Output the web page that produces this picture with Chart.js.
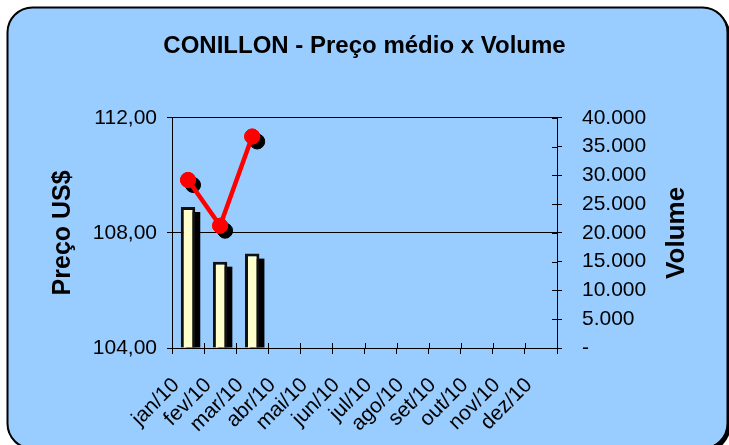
<!DOCTYPE html>
<html lang="pt">
<head>
    <meta charset="UTF-8">
    <title>CONILLON - Preço médio x Volume</title>
    <script src="https://cdn.jsdelivr.net/npm/chart.js@4"></script>
    <style>
        html, body { margin: 0; padding: 0; background: #fff; }
        #wrap { width: 729px; height: 445px; position: relative; }
    </style>
</head>
<body>
    <div id="wrap"><canvas id="grafico"></canvas></div>

    <script>
        // Dados
        const meses = ['jan/10', 'fev/10', 'mar/10', 'abr/10', 'mai/10', 'jun/10',
                       'jul/10', 'ago/10', 'set/10', 'out/10', 'nov/10', 'dez/10'];
        const precoMedio = [109.84, 108.25, 111.35];   // US$ (eixo esquerdo)
        const volume = [24500, 15000, 16400];          // eixo direito
        const precoEixo = [104, 108, 112];
        const volumeEixo = [0, 5000, 10000, 15000, 20000, 25000, 30000, 35000, 40000];

        const fonte = "'Liberation Sans', Arial, sans-serif";

        function milhar(v) {
            if (v === 0) return '-';
            return String(v).replace(/\B(?=(\d{3})+(?!\d))/g, '.');
        }

        // moldura azul arredondada atrás do gráfico
        const moldura = {
            id: 'moldura',
            beforeDraw(chart) {
                const ctx = chart.ctx;
                ctx.save();
                ctx.fillStyle = '#fff';
                ctx.fillRect(0, 0, chart.width, chart.height);
                ctx.fillStyle = '#000';
                ctx.beginPath();
                ctx.roundRect(10.5, 10.5, 720, 441, 25);
                ctx.fill();
                ctx.beginPath();
                ctx.roundRect(7.5, 7.5, 720, 441, 25);
                ctx.fillStyle = '#99ccff';
                ctx.fill();
                ctx.lineWidth = 2;
                ctx.strokeStyle = '#000';
                ctx.stroke();
                ctx.restore();
            }
        };

        // sombra preta: retângulos deslocados para as barras, shadow do canvas para os pontos
        const sombra = {
            id: 'sombra',
            beforeDatasetDraw(chart, args) {
                const ds = chart.data.datasets[args.index];
                if (!ds.sombra) return;
                const ctx = chart.ctx;
                ctx.save();
                if (ds.type === 'bar') {
                    const d = ds.sombra;
                    ctx.fillStyle = '#000';
                    args.meta.data.forEach(bar => {
                        const p = bar.getProps(['x', 'y', 'base', 'width'], true);
                        ctx.fillRect(p.x - p.width / 2 + d, p.y + d, p.width, p.base - p.y - d);
                    });
                } else {
                    ctx.shadowColor = '#000';
                    ctx.shadowBlur = 0;
                    ctx.shadowOffsetX = ds.sombra;
                    ctx.shadowOffsetY = ds.sombra;
                }
            },
            afterDatasetDraw(chart, args) {
                const ds = chart.data.datasets[args.index];
                if (!ds.sombra) return;
                chart.ctx.restore();
            }
        };

        // marcas de escala que cruzam os eixos (parte de dentro)
        const tracos = {
            id: 'tracos',
            afterDraw(chart) {
                const ctx = chart.ctx;
                const x = chart.scales.x, y1 = chart.scales.y1;
                const area = chart.chartArea;
                ctx.save();
                ctx.strokeStyle = '#000';
                ctx.lineWidth = 1;
                ctx.beginPath();
                for (let i = 0; i <= meses.length; i++) {
                    const px = Math.round(x.getPixelForValue(i - 0.5)) + 0.5;
                    ctx.moveTo(px, area.bottom);
                    ctx.lineTo(px, area.bottom - 5);
                }
                volumeEixo.forEach(v => {
                    const py = Math.round(y1.getPixelForValue(v)) + 0.5;
                    ctx.moveTo(area.right, py);
                    ctx.lineTo(area.right - 5, py);
                });
                ctx.stroke();
                ctx.restore();
            }
        };

        // título do eixo direito, lido de baixo para cima
        const tituloDireito = {
            id: 'tituloDireito',
            afterDraw(chart) {
                const s = chart.scales.y1;
                const ctx = chart.ctx;
                ctx.save();
                ctx.translate(677, (chart.chartArea.top + chart.chartArea.bottom) / 2);
                ctx.rotate(-Math.PI / 2);
                ctx.font = 'bold 26px ' + fonte;
                ctx.fillStyle = '#000';
                ctx.textAlign = 'center';
                ctx.textBaseline = 'middle';
                ctx.fillText(s.options.title.text, 0, 0);
                ctx.restore();
            }
        };

        const ctx = document.getElementById('grafico').getContext('2d');
        new Chart(ctx, {
            data: {
                labels: meses,
                datasets: [
                    {
                        type: 'line',
                        data: precoMedio,
                        yAxisID: 'y',
                        borderColor: '#ff0000',
                        borderWidth: 4.5,
                        pointRadius: 7.5,
                        pointBackgroundColor: '#ff0000',
                        pointBorderColor: '#ff0000',
                        pointBorderWidth: 1,
                        order: 1
                    },
                    {
                        type: 'line',
                        data: precoMedio,
                        yAxisID: 'y',
                        showLine: false,
                        pointRadius: 7.5,
                        pointBackgroundColor: '#ff0000',
                        pointBorderColor: '#ff0000',
                        pointBorderWidth: 1,
                        sombra: 5,
                        order: 2
                    },
                    {
                        type: 'bar',
                        data: volume,
                        yAxisID: 'y1',
                        backgroundColor: '#ffffcc',
                        borderColor: '#111',
                        borderWidth: 3,
                        barPercentage: 0.45,
                        categoryPercentage: 1,
                        sombra: 5,
                        order: 3
                    }
                ]
            },
            options: {
                responsive: true,
                maintainAspectRatio: false,
                animation: false,
                layout: { padding: 0 },
                plugins: {
                    legend: { display: false },
                    tooltip: { enabled: false },
                    title: {
                        display: true,
                        text: 'CONILLON - Preço médio x Volume',
                        color: '#000',
                        font: { family: fonte, size: 24, weight: 'bold' },
                        padding: { top: 32, bottom: 57 }
                    }
                },
                scales: {
                    x: {
                        offset: true,
                        afterFit: s => { s.height = 97; },
                        grid: { drawOnChartArea: false, color: '#000', tickLength: 6 },
                        border: { color: '#000', width: 1 },
                        ticks: {
                            color: '#000',
                            font: { family: fonte, size: 21 },
                            autoSkip: false,
                            maxRotation: 45,
                            minRotation: 45,
                            labelOffset: -12,
                            padding: 19
                        }
                    },
                    y: {
                        position: 'left',
                        min: 104,
                        max: 112,
                        afterFit: s => { s.width = 172; },
                        afterBuildTicks: s => { s.ticks = precoEixo.map(v => ({ value: v })); },
                        grid: { color: '#000', tickLength: 5 },
                        border: { color: '#000', width: 1 },
                        ticks: {
                            color: '#000',
                            font: { family: fonte, size: 21 },
                            padding: 10,
                            callback: v => v.toFixed(2).replace('.', ',')
                        },
                        title: {
                            display: true,
                            text: 'Preço US$',
                            color: '#000',
                            font: { family: fonte, size: 25, weight: 'bold' },
                            padding: { top: 48 }
                        }
                    },
                    y1: {
                        position: 'right',
                        min: 0,
                        max: 40000,
                        afterFit: s => { s.width = 172; },
                        afterBuildTicks: s => { s.ticks = volumeEixo.map(v => ({ value: v })); },
                        grid: { drawOnChartArea: false, color: '#000', tickLength: 5 },
                        border: { color: '#000', width: 1 },
                        ticks: {
                            color: '#000',
                            font: { family: fonte, size: 21 },
                            padding: 20,
                            callback: v => milhar(v)
                        },
                        title: { display: false, text: 'Volume' }
                    }
                }
            },
            plugins: [moldura, sombra, tracos, tituloDireito]
        });
    </script>
</body>
</html>
